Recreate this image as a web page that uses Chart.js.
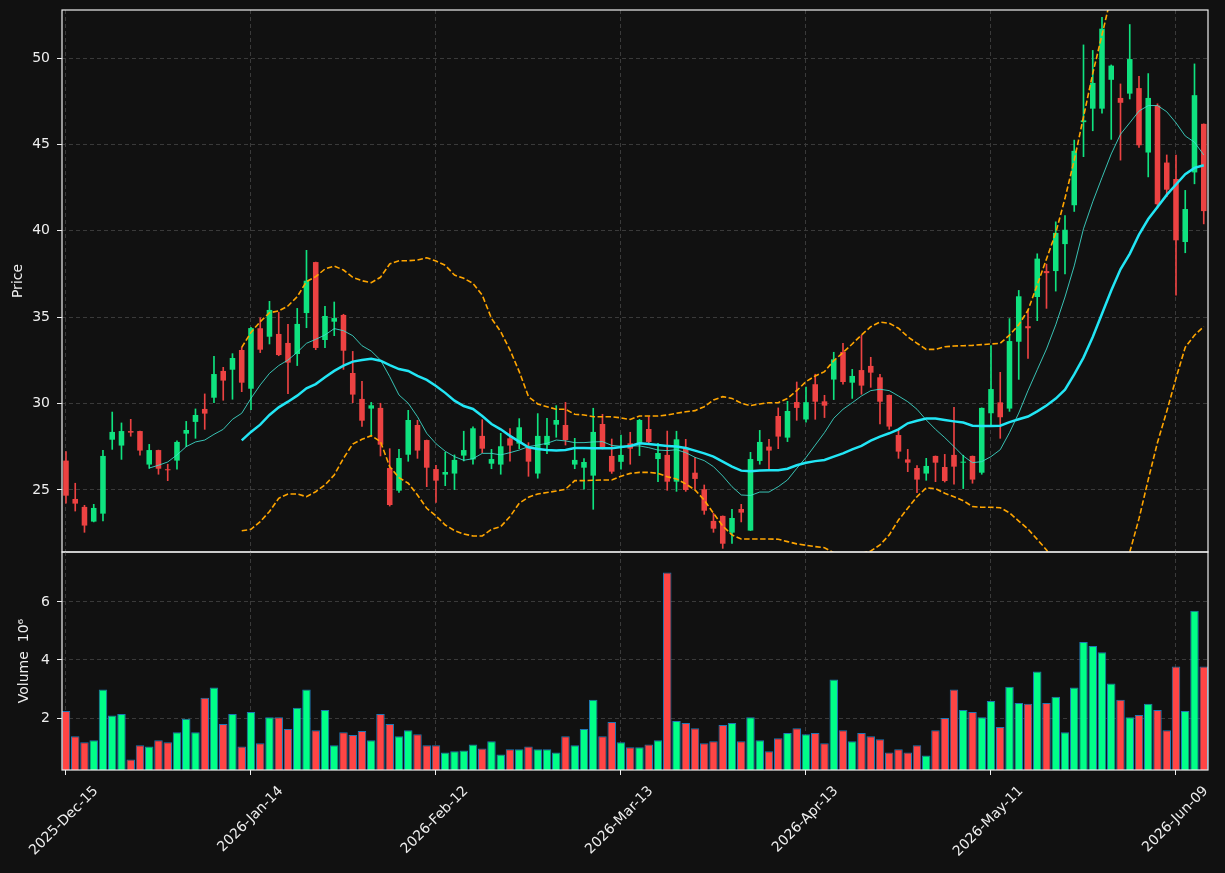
<!DOCTYPE html>
<html>
<head>
<meta charset="utf-8">
<script src="https://cdn.jsdelivr.net/npm/chart.js@4.4.1/dist/chart.umd.min.js"></script>
<style>
  html, body { margin: 0; padding: 0; background: #111111; }
  #wrap { position: relative; width: 1225px; height: 873px; }
  canvas { position: absolute; left: 0; top: 0; }
</style>
</head>
<body>
<div id="wrap">
  <canvas id="price" width="1225" height="873"></canvas>
  <canvas id="volume" width="1225" height="873"></canvas>
</div>
<script>
// daily OHLC, one entry per trading day (index 0 = 2025-12-15)
const opens = [26.70, 24.48, 24.02, 23.17, 23.63, 27.91, 27.57, 28.41, 28.41, 26.47,
  27.31, 26.20, 26.70, 28.26, 28.94, 29.69, 30.34, 31.89, 31.96, 33.10,
  30.86, 34.36, 33.87, 34.03, 33.51, 32.87, 35.24, 38.19, 33.68, 34.74,
  35.13, 31.77, 30.27, 29.71, 29.75, 26.27, 24.96, 27.04, 28.76, 27.89,
  26.21, 25.89, 25.95, 26.99, 26.77, 28.13, 26.52, 26.47, 27.99, 27.68,
  27.47, 25.95, 27.60, 28.78, 28.76, 26.47, 26.29, 25.83, 28.82, 26.97,
  26.63, 27.70, 27.66, 28.53, 26.79, 27.03, 25.48, 27.45, 26.00, 25.04,
  23.21, 23.50, 22.53, 23.90, 22.65, 26.68, 27.51, 29.28, 28.03, 30.09,
  29.08, 31.12, 30.13, 31.39, 32.99, 31.21, 31.94, 32.18, 31.52, 30.50,
  28.18, 26.77, 26.27, 25.95, 26.97, 26.33, 27.03, 26.58, 26.97, 26.00,
  29.44, 30.07, 29.71, 33.58, 34.48, 36.17, 37.67, 37.67, 39.23, 41.48,
  46.29, 47.07, 47.07, 48.74, 47.69, 47.94, 48.26, 44.53, 47.25, 43.95,
  43.00, 39.35, 43.38, 46.19];
const highs = [27.22, 25.39, 24.11, 24.17, 27.30, 29.51, 28.88, 29.09, 28.41, 27.64,
  27.31, 26.49, 27.84, 28.97, 29.69, 30.56, 32.74, 32.10, 32.89, 33.25,
  34.42, 34.97, 35.92, 35.28, 34.59, 35.51, 38.87, 38.19, 35.63, 35.88,
  35.17, 33.02, 31.29, 30.07, 30.02, 27.39, 27.35, 29.61, 29.03, 27.89,
  26.42, 27.18, 27.03, 28.40, 28.65, 29.07, 27.35, 28.28, 28.55, 29.13,
  27.74, 29.42, 29.15, 29.88, 30.07, 27.99, 26.81, 29.73, 29.38, 27.95,
  28.17, 28.34, 29.09, 29.24, 27.70, 28.41, 28.40, 27.93, 26.87, 25.29,
  23.65, 23.50, 23.88, 24.17, 27.18, 28.45, 27.93, 29.75, 30.13, 31.25,
  30.96, 31.70, 30.48, 32.97, 33.49, 31.98, 33.95, 32.68, 31.69, 30.50,
  28.49, 27.35, 26.41, 26.83, 26.97, 27.06, 29.78, 27.01, 26.97, 29.75,
  33.35, 31.81, 34.92, 36.55, 35.42, 38.67, 38.07, 40.52, 40.88, 45.25,
  50.76, 50.44, 52.35, 49.60, 48.50, 51.94, 48.94, 49.10, 47.35, 44.39,
  44.39, 42.34, 49.66, 46.19];
const lows = [24.23, 23.78, 22.55, 23.15, 23.21, 27.35, 26.77, 28.11, 27.01, 26.25,
  25.91, 25.54, 26.20, 27.51, 27.99, 28.51, 30.05, 30.19, 30.25, 30.69,
  29.65, 32.95, 33.45, 32.77, 30.57, 32.20, 34.39, 33.12, 33.24, 33.93,
  31.98, 30.05, 28.68, 28.18, 26.97, 24.07, 24.86, 26.66, 26.83, 25.19,
  24.28, 25.25, 25.02, 26.68, 26.50, 27.16, 26.23, 25.91, 26.66, 27.39,
  25.79, 25.68, 27.10, 28.05, 27.60, 26.23, 25.04, 23.88, 27.37, 25.96,
  26.20, 26.49, 26.99, 27.70, 25.48, 24.98, 24.92, 24.92, 25.06, 23.59,
  22.55, 21.62, 21.91, 23.15, 22.65, 26.49, 26.23, 27.39, 27.80, 29.03,
  28.92, 29.09, 29.19, 30.23, 31.12, 30.30, 30.54, 30.94, 28.82, 28.51,
  26.83, 26.06, 24.85, 25.56, 25.48, 25.46, 25.33, 25.08, 25.39, 25.91,
  28.76, 27.99, 29.55, 31.40, 32.62, 34.80, 35.51, 36.51, 37.51, 41.12,
  44.29, 45.79, 46.81, 45.29, 44.09, 47.63, 44.83, 43.12, 41.32, 41.98,
  36.27, 38.73, 42.72, 40.40];
const closes = [24.67, 24.21, 22.94, 23.96, 26.97, 28.36, 28.41, 28.32, 27.28, 27.31,
  26.23, 26.14, 27.78, 28.47, 29.34, 29.42, 31.71, 31.33, 32.64, 31.21,
  34.37, 33.12, 35.42, 32.81, 32.37, 34.61, 37.11, 33.22, 35.07, 34.95,
  33.06, 30.52, 29.01, 29.90, 27.62, 24.13, 26.85, 29.05, 27.28, 26.29,
  25.54, 26.04, 26.74, 27.31, 28.57, 27.39, 26.79, 27.53, 27.57, 28.63,
  26.64, 28.13, 28.13, 29.05, 27.89, 26.74, 26.62, 28.36, 27.45, 26.06,
  27.03, 27.39, 29.05, 27.78, 27.14, 25.48, 27.93, 25.00, 25.64, 23.80,
  22.76, 21.89, 23.38, 23.69, 26.79, 27.78, 27.28, 28.09, 29.57, 29.75,
  30.08, 30.11, 29.88, 32.56, 31.25, 31.60, 31.04, 31.79, 30.11, 28.67,
  27.22, 26.58, 25.60, 26.39, 26.58, 25.52, 26.35, 26.62, 25.60, 29.75,
  30.84, 29.21, 33.62, 36.21, 34.36, 38.39, 37.55, 39.88, 40.06, 44.63,
  46.39, 48.56, 51.70, 49.56, 47.41, 49.94, 44.95, 47.69, 41.54, 42.38,
  39.45, 41.26, 47.85, 41.14];
// volume in millions
const volumes = [2.24, 1.37, 1.16, 1.23, 2.98, 2.09, 2.14, 0.57, 1.06, 1.02,
  1.23, 1.16, 1.51, 1.97, 1.51, 2.70, 3.05, 1.79, 2.14, 1.02,
  2.21, 1.13, 2.03, 2.03, 1.62, 2.35, 2.98, 1.58, 2.28, 1.06,
  1.51, 1.41, 1.55, 1.23, 2.14, 1.79, 1.37, 1.58, 1.44, 1.06,
  1.06, 0.81, 0.85, 0.88, 1.09, 0.95, 1.20, 0.74, 0.92, 0.92,
  1.02, 0.92, 0.92, 0.81, 1.37, 1.06, 1.62, 2.63, 1.37, 1.86,
  1.16, 0.99, 0.99, 1.09, 1.23, 7.02, 1.90, 1.83, 1.65, 1.13,
  1.20, 1.76, 1.83, 1.20, 2.03, 1.23, 0.85, 1.30, 1.48, 1.65,
  1.44, 1.48, 1.13, 3.33, 1.58, 1.20, 1.48, 1.37, 1.27, 0.81,
  0.92, 0.81, 1.06, 0.71, 1.58, 2.00, 2.98, 2.28, 2.21, 2.03,
  2.59, 1.69, 3.08, 2.52, 2.49, 3.60, 2.52, 2.73, 1.51, 3.05,
  4.62, 4.48, 4.27, 3.19, 2.63, 2.03, 2.10, 2.49, 2.28, 1.58,
  3.78, 2.24, 5.70, 3.78];

// overlay lines
const ma10 = Array(9).fill(null).concat([
  26.27, 26.43, 26.62, 27.03, 27.51, 27.78, 27.89, 28.22, 28.51, 29.09,
  29.44, 30.30, 31.08, 31.75, 32.20, 32.52, 32.97, 33.49, 33.72, 33.97,
  34.34, 34.22, 33.93, 33.35, 33.04, 32.52, 31.56, 30.50, 30.02, 29.24,
  28.28, 27.68, 27.24, 26.93, 26.72, 26.81, 27.12, 27.12, 27.03, 27.16,
  27.31, 27.51, 27.60, 27.70, 27.89, 27.84, 27.74, 27.74, 27.78, 27.80,
  27.58, 27.53, 27.55, 27.55, 27.45, 27.31, 27.28, 27.33, 27.16, 26.89,
  26.70, 26.35, 25.81, 25.19, 24.71, 24.68, 24.88, 24.88, 25.19, 25.58,
  26.25, 26.88, 27.60, 28.32, 29.15, 29.67, 30.05, 30.44, 30.75, 30.83,
  30.75, 30.44, 30.11, 29.67, 29.05, 28.51, 28.03, 27.51, 26.97, 26.58,
  26.64, 26.93, 27.33, 28.32, 29.45, 30.75, 31.96, 33.16, 34.56, 36.17,
  37.97, 40.12, 41.68, 43.08, 44.45, 45.59, 46.25, 46.93, 47.25, 47.25,
  46.89, 46.25, 45.49, 45.13, 44.39]);
const ma20 = Array(19).fill(null).concat([
  27.87, 28.36, 28.78, 29.34, 29.78, 30.11, 30.46, 30.88, 31.13, 31.52,
  31.89, 32.20, 32.43, 32.52, 32.60, 32.48, 32.23, 32.00, 31.89, 31.60,
  31.37, 31.02, 30.62, 30.17, 29.86, 29.69, 29.28, 28.82, 28.51, 28.13,
  27.80, 27.47, 27.37, 27.31, 27.28, 27.31, 27.43, 27.43, 27.41, 27.41,
  27.41, 27.49, 27.55, 27.70, 27.66, 27.60, 27.55, 27.51, 27.43, 27.28,
  27.12, 26.93, 26.64, 26.35, 26.12, 26.08, 26.12, 26.14, 26.14, 26.23,
  26.43, 26.58, 26.67, 26.74, 26.93, 27.12, 27.35, 27.55, 27.85, 28.09,
  28.28, 28.51, 28.86, 29.01, 29.13, 29.13, 29.05, 28.97, 28.90, 28.72,
  28.70, 28.70, 28.72, 28.93, 29.09, 29.25, 29.55, 29.89, 30.29, 30.81,
  31.69, 32.66, 33.86, 35.20, 36.55, 37.77, 38.67, 39.78, 40.68, 41.38,
  42.08, 42.68, 43.28, 43.64, 43.79]);
const bbUpper = Array(19).fill(null).concat([
  33.25, 34.12, 34.74, 35.26, 35.36, 35.65, 36.19, 37.06, 37.35, 37.79,
  37.96, 37.73, 37.31, 37.11, 37.00, 37.31, 38.08, 38.27, 38.27, 38.31,
  38.44, 38.25, 38.00, 37.44, 37.25, 36.96, 36.28, 34.93, 34.16, 33.10,
  31.85, 30.40, 29.98, 29.82, 29.67, 29.67, 29.38, 29.34, 29.24, 29.24,
  29.24, 29.17, 29.08, 29.28, 29.28, 29.28, 29.34, 29.44, 29.53, 29.59,
  29.82, 30.21, 30.40, 30.30, 30.02, 29.88, 29.98, 30.05, 30.05, 30.30,
  30.75, 31.27, 31.60, 31.85, 32.48, 32.95, 33.45, 33.97, 34.45, 34.72,
  34.65, 34.36, 33.87, 33.49, 33.14, 33.14, 33.29, 33.33, 33.35, 33.37,
  33.41, 33.45, 33.49, 33.96, 34.56, 35.40, 36.87, 38.37, 39.88, 41.88,
  44.09, 46.59, 49.10, 51.34, 53.60, 55.00, 55.90, 56.20, 55.80, 55.00,
  54.60, 53.90, 53.30, 53.30, 53.10]);
const bbLower = Array(19).fill(null).concat([
  22.64, 22.72, 23.17, 23.75, 24.52, 24.77, 24.77, 24.61, 24.90, 25.29,
  25.87, 26.83, 27.66, 27.93, 28.14, 27.80, 26.35, 25.71, 25.39, 24.71,
  23.94, 23.50, 22.97, 22.65, 22.45, 22.34, 22.34, 22.72, 22.88, 23.46,
  24.23, 24.58, 24.77, 24.85, 24.94, 25.04, 25.54, 25.54, 25.56, 25.58,
  25.58, 25.79, 25.96, 26.02, 26.02, 25.96, 25.77, 25.64, 25.35, 25.00,
  24.42, 23.65, 22.92, 22.40, 22.16, 22.16, 22.16, 22.16, 22.15, 22.01,
  21.88, 21.80, 21.72, 21.66, 21.37, 21.30, 21.30, 21.33, 21.47, 21.82,
  22.40, 23.26, 23.94, 24.61, 25.12, 25.08, 24.81, 24.61, 24.38, 24.04,
  24.00, 24.00, 23.97, 23.68, 23.20, 22.74, 22.14, 21.53, 20.70, 19.74,
  19.29, 18.73, 18.62, 19.06, 19.50, 20.50, 21.40, 23.34, 25.60, 27.75,
  29.55, 31.46, 33.26, 33.96, 34.46]);

const tickIdx = [0, 20, 40, 60, 80, 100, 120];
const tickLabels = ['2025-Dec-15', '2026-Jan-14', '2026-Feb-12', '2026-Mar-13',
  '2026-Apr-13', '2026-May-11', '2026-Jun-09'];

const upColor = '#0fe27f';
const downColor = '#ec4242';
const upVol = '#00ff88';
const downVol = '#ff4545';
const X_MIN = -0.43, X_MAX = 123.46;

const isUp = closes.map((c, i) => c >= opens[i]);
const candleColors = isUp.map(u => u ? upColor : downColor);
const xy = arr => arr.map((v, i) => ({ x: i, y: v }));

Chart.defaults.font.family = 'DejaVu Sans';
Chart.defaults.font.size = 14;
Chart.defaults.color = '#eeeeee';
Chart.defaults.animation = false;

// white box round each panel
const frame = {
  id: 'frame',
  afterDraw(chart) {
    const { ctx, chartArea: a } = chart;
    ctx.save();
    ctx.strokeStyle = '#eeeeee';
    ctx.lineWidth = 1.2;
    ctx.strokeRect(a.left, a.top, a.right - a.left, a.bottom - a.top);
    ctx.restore();
  }
};

const grid = (ticks) => ({
  offset: false,
  color: '#3a3a3a',
  lineWidth: 1,
  drawTicks: ticks,
  tickLength: 5,
  tickColor: '#eeeeee',
  tickBorderDash: [],
  tickWidth: 1
});
// grid line dash lives under border in v4
const noBorder = { display: false, dash: [4, 3] };
const fitY = (s) => { s.width = 62; s.paddingTop = 0; s.paddingBottom = 0; };

const lineSet = (data, color, width, dash) => ({
  type: 'line', data: xy(data), borderColor: color, borderWidth: width,
  borderDash: dash || [], pointRadius: 0, tension: 0, order: 0
});

new Chart(document.getElementById('price'), {
  type: 'bar',
  data: {
    datasets: [
      lineSet(ma20, '#22e6f5', 2.5),
      lineSet(ma10, 'rgba(64,224,208,0.85)', 1),
      lineSet(bbUpper, '#ffa500', 1.6, [5.5, 2.5]),
      lineSet(bbLower, '#ffa500', 1.6, [5.5, 2.5]),
      {
        data: opens.map((o, i) => ({ x: i, y: [o, closes[i]] })),
        backgroundColor: candleColors,
        barPercentage: 0.6, categoryPercentage: 1, grouped: false,
        minBarLength: 1, order: 1
      },
      {
        data: lows.map((l, i) => ({ x: i, y: [l, highs[i]] })),
        backgroundColor: candleColors,
        barThickness: 1, grouped: false, order: 2
      }
    ]
  },
  options: {
    responsive: false,
    devicePixelRatio: 1,
    layout: { padding: { left: 0, right: 17, top: 10, bottom: 321 } },
    plugins: { legend: { display: false }, tooltip: { enabled: false } },
    scales: {
      x: {
        type: 'linear', min: X_MIN, max: X_MAX, offset: false,
        ticks: { display: false, stepSize: 20, includeBounds: false },
        grid: grid(false),
        border: noBorder,
        afterFit: (s) => { s.height = 0; s.paddingLeft = 0; s.paddingRight = 0; }
      },
      y: {
        min: 21.41, max: 52.78,
        ticks: { stepSize: 5, includeBounds: false, padding: 7 },
        grid: grid(true),
        border: noBorder,
        title: { display: true, text: 'Price', padding: { top: 10 } },
        afterFit: fitY
      }
    }
  },
  plugins: [frame]
});

new Chart(document.getElementById('volume'), {
  type: 'bar',
  data: {
    datasets: [{
      data: xy(volumes),
      backgroundColor: isUp.map(u => u ? upVol : downVol),
      borderColor: '#1f77b4',
      borderWidth: 1,
      barPercentage: 0.92, categoryPercentage: 1, grouped: false
    }]
  },
  options: {
    responsive: false,
    devicePixelRatio: 1,
    layout: { padding: { left: 0, right: 17, top: 552, bottom: 0 } },
    plugins: { legend: { display: false }, tooltip: { enabled: false } },
    scales: {
      x: {
        type: 'linear', min: X_MIN, max: X_MAX, offset: false,
        ticks: {
          stepSize: 20, includeBounds: false, autoSkip: false,
          minRotation: 45, maxRotation: 45, labelOffset: 30, padding: 8,
          callback: (v) => { const k = tickIdx.indexOf(v); return k < 0 ? '' : tickLabels[k]; }
        },
        grid: grid(true),
        border: noBorder,
        afterFit: (s) => { s.height = 103; s.paddingLeft = 0; s.paddingRight = 0; }
      },
      y: {
        min: 0.207, max: 7.724,
        ticks: { stepSize: 2, includeBounds: false, padding: 7 },
        grid: grid(true),
        border: noBorder,
        title: { display: true, text: 'Volume  10⁶', padding: { top: 16 } },
        afterFit: fitY
      }
    }
  },
  plugins: [frame]
});
</script>
</body>
</html>
